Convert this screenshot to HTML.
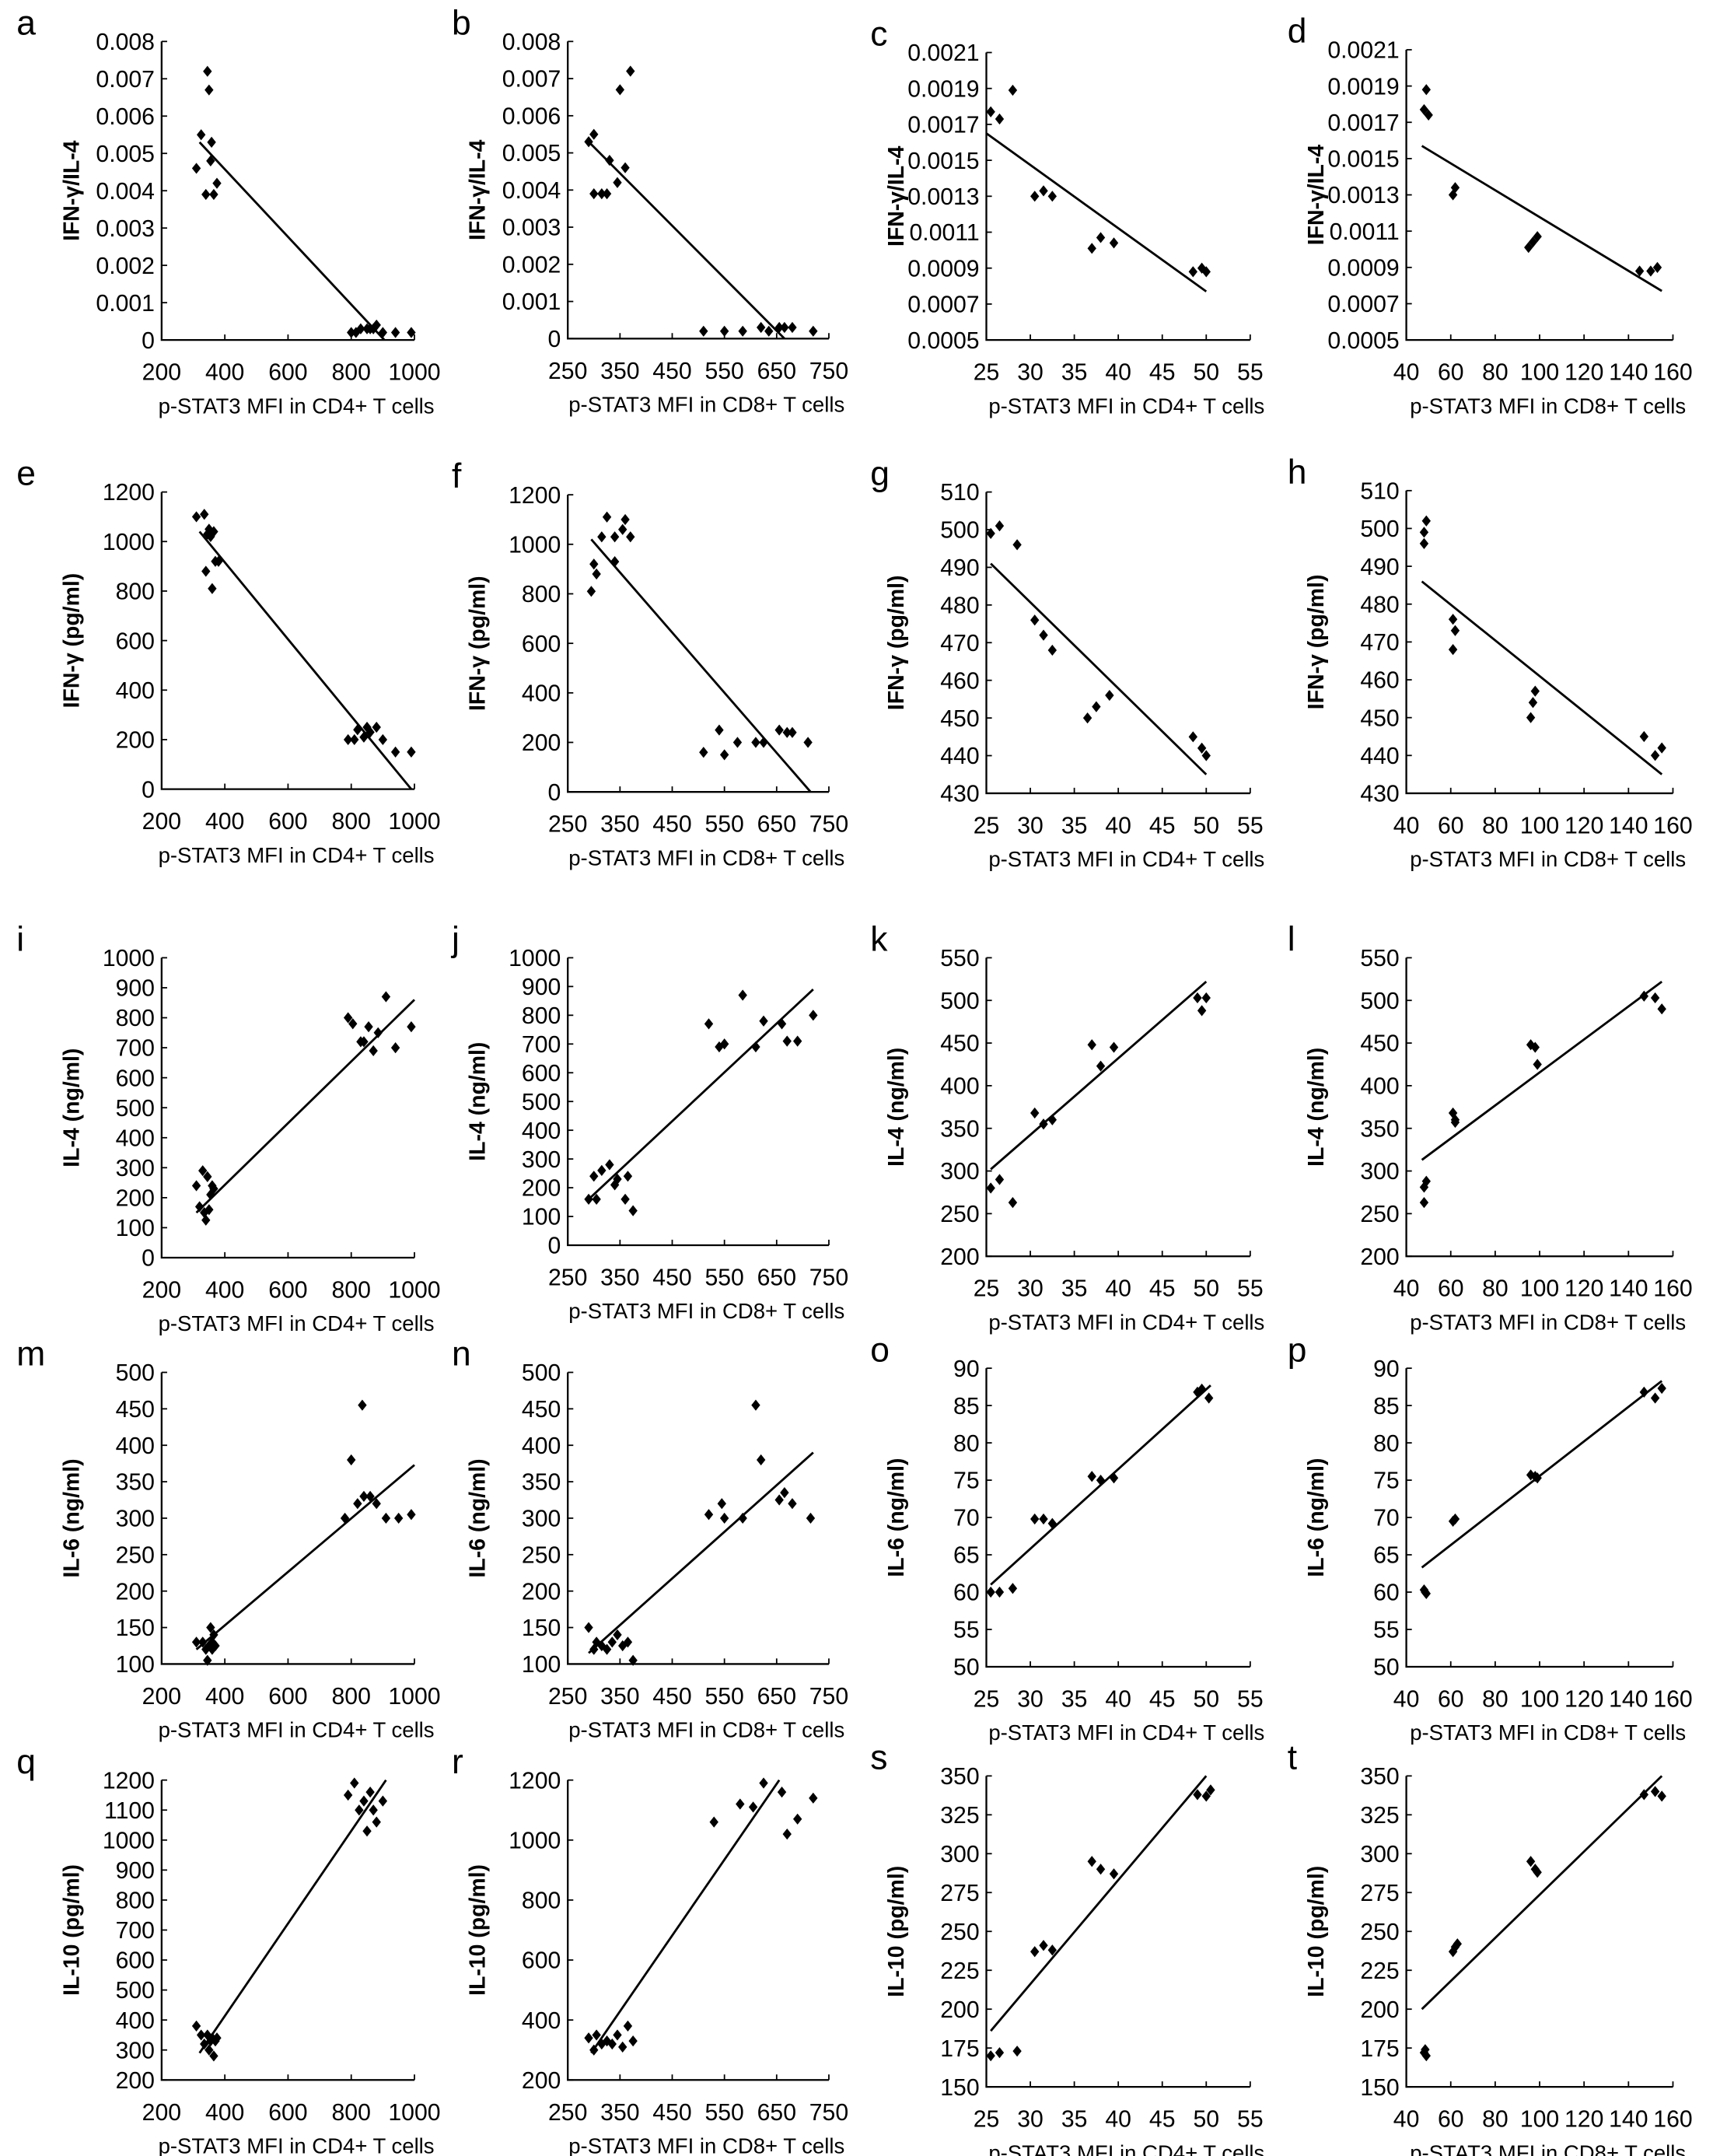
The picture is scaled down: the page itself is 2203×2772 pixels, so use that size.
<!DOCTYPE html>
<html><head><meta charset="utf-8"><style>
html,body{margin:0;padding:0;background:#fff}
svg{display:block}
text{font-family:"Liberation Sans",Arial,sans-serif;fill:#000}
.tk{font-size:17px}
.xt{font-size:15.5px}
.tt{font-size:16px;font-weight:bold}
.lt{font-size:25px}
</style></head><body>
<svg id="fig" width="2203" height="2772" viewBox="0 0 1240 1560" preserveAspectRatio="none" xmlns="http://www.w3.org/2000/svg"></svg>
<script>
const xA=[310,325,340,345,350,355,358,365,375,800,815,830,850,860,870,880,900,940,990];
const yA=[0.0046,0.0055,0.0039,0.0072,0.0067,0.0048,0.0053,0.0039,0.0042,0.0002,0.0002,0.0003,0.0003,0.0003,0.0003,0.0004,0.0002,0.0002,0.0002];
const fitA=[[320,0.0053],[905,0]];
const xB=[290,300,300,315,325,330,345,350,360,370,510,550,585,620,635,655,665,680,720];
const yB=[0.0053,0.0055,0.0039,0.0039,0.0039,0.0048,0.0042,0.0067,0.0046,0.0072,0.0002,0.0002,0.0002,0.0003,0.0002,0.0003,0.0003,0.0003,0.0002];
const fitB=[[290,0.0053],[665,0]];
const xC=[25.5,26.5,28,30.5,31.5,32.5,37,38,39.5,48.5,49.5,50];
const yC=[0.00177,0.00173,0.00189,0.0013,0.00133,0.0013,0.00101,0.00107,0.00104,0.00088,0.0009,0.00088];
const fitC=[[25,0.00165],[50,0.00077]];
const xD=[48,49,50,61,62,95,97,99,145,150,153];
const yD=[0.00177,0.00188,0.00174,0.0013,0.00134,0.00101,0.00104,0.00107,0.00088,0.00088,0.0009];
const fitD=[[47,0.00157],[155,0.00077]];
const xE=[310,335,340,345,350,355,360,365,370,380,790,810,820,840,850,860,880,900,940,990];
const yE=[1100,1110,880,1030,1050,1020,810,1040,920,920,200,200,240,210,250,230,250,200,150,150];
const fitE=[[320,1040],[990,0]];
const xF=[295,300,305,315,325,340,340,355,360,370,510,540,550,575,610,625,655,670,680,710];
const yF=[810,920,880,1030,1110,1030,930,1060,1100,1030,160,250,150,200,200,200,250,240,240,200];
const fitF=[[295,1020],[715,0]];
const xG=[25.5,26.5,28.5,30.5,31.5,32.5,36.5,37.5,39,48.5,49.5,50];
const yG=[499,501,496,476,472,468,450,453,456,445,442,440];
const fitG=[[25.5,491],[50,435]];
const xH=[48,49,48,61,62,61,96,97,98,147,152,155];
const yH=[499,502,496,476,473,468,450,454,457,445,440,442];
const fitH=[[47,486],[155,435]];
const xI=[310,320,330,335,340,345,350,355,360,365,790,805,830,840,855,870,885,910,940,990];
const yI=[240,170,290,150,125,270,160,210,240,230,800,780,720,720,770,690,750,870,700,770];
const fitI=[[310,150],[1000,860]];
const xJ=[290,300,305,315,330,340,345,360,365,375,520,540,550,585,610,625,660,670,690,720];
const yJ=[160,240,160,260,280,210,230,160,240,120,770,690,700,870,690,780,770,710,710,800];
const fitJ=[[290,160],[720,890]];
const xK=[25.5,26.5,28,30.5,31.5,32.5,37,38,39.5,49,49.5,50];
const yK=[280,290,263,368,355,360,448,423,445,503,488,503];
const fitK=[[25.5,302],[50,522]];
const xL=[48,49,48,61,62,62,96,98,99,147,152,155];
const yL=[281,288,263,368,357,360,448,445,425,505,503,490];
const fitL=[[47,313],[155,522]];
const xM=[310,330,340,345,350,355,360,365,370,360,780,800,820,835,840,860,880,910,950,990];
const yM=[130,130,120,105,125,150,120,140,125,130,300,380,320,455,330,330,320,300,300,305];
const fitM=[[310,120],[1000,373]];
const xN=[290,300,305,315,325,335,345,355,365,375,520,545,550,585,610,620,655,665,680,715];
const yN=[150,120,130,125,120,130,140,125,130,105,305,320,300,300,455,380,325,335,320,300];
const fitN=[[290,115],[720,390]];
const xO=[25.5,26.5,28,30.5,31.5,32.5,37,38,39.5,49,49.5,50.3];
const yO=[60,60,60.5,69.8,69.8,69.2,75.5,75,75.3,86.8,87.2,86];
const fitO=[[25.5,61],[50.5,87.7]];
const xP=[48,49,48.5,61,62,96,98,99,147,152,155];
const yP=[60.3,59.8,60,69.5,69.8,75.7,75.5,75.3,86.8,86,87.3];
const fitP=[[47,63.3],[155,88.3]];
const xQ=[310,325,335,345,350,355,360,365,370,375,790,810,825,840,850,860,870,880,900];
const yQ=[380,350,320,350,300,330,340,280,330,340,1150,1190,1100,1130,1030,1160,1100,1060,1130];
const fitQ=[[320,290],[910,1200]];
const xR=[290,300,305,315,325,335,345,355,365,375,530,580,605,625,660,670,690,720];
const yR=[340,300,350,320,330,320,350,310,380,330,1060,1120,1110,1190,1160,1020,1070,1140];
const fitR=[[295,290],[655,1200]];
const xS=[25.5,26.5,28.5,30.5,31.5,32.5,37,38,39.5,49,50,50.5];
const yS=[170,172,173,237,241,238,295,290,287,338,337,341];
const fitS=[[25.5,186],[50,350]];
const xT=[48,49,48.5,61,62,63,96,98,99,147,152,155];
const yT=[172,170,174,237,240,242,295,290,288,338,340,337];
const fitT=[[47,200],[155,350]];

const cd4="p-STAT3 MFI in CD4+ T cells", cd8="p-STAT3 MFI in CD8+ T cells";
const C1={px0:117,px1:300,min:200,max:1000,step:200,lx:12};
const C2={px0:411,px1:600,min:250,max:750,step:100,lx:327};
const C3={px0:714,px1:905,min:25,max:55,step:5,lx:630};
const C4={px0:1018,px1:1211,min:40,max:160,step:20,lx:932};
const panels=[
 ['a',xA,yA,fitA,C1,30,246,0,0.008,0.001,3,'IFN-γ/IL-4',cd4],
 ['b',xB,yB,fitB,C2,30,245,0,0.008,0.001,3,'IFN-γ/IL-4',cd8],
 ['c',xC,yC,fitC,C3,38,246,0.0005,0.0021,0.0002,4,'IFN-γ/IL-4',cd4],
 ['d',xD,yD,fitD,C4,36,246,0.0005,0.0021,0.0002,4,'IFN-γ/IL-4',cd8],
 ['e',xE,yE,fitE,C1,356,571,0,1200,200,0,'IFN-γ (pg/ml)',cd4],
 ['f',xF,yF,fitF,C2,358,573,0,1200,200,0,'IFN-γ (pg/ml)',cd8],
 ['g',xG,yG,fitG,C3,356,574,430,510,10,0,'IFN-γ (pg/ml)',cd4],
 ['h',xH,yH,fitH,C4,355,574,430,510,10,0,'IFN-γ (pg/ml)',cd8],
 ['i',xI,yI,fitI,C1,693,910,0,1000,100,0,'IL-4 (ng/ml)',cd4],
 ['j',xJ,yJ,fitJ,C2,693,901,0,1000,100,0,'IL-4 (ng/ml)',cd8],
 ['k',xK,yK,fitK,C3,693,909,200,550,50,0,'IL-4 (ng/ml)',cd4],
 ['l',xL,yL,fitL,C4,693,909,200,550,50,0,'IL-4 (ng/ml)',cd8],
 ['m',xM,yM,fitM,C1,993,1204,100,500,50,0,'IL-6 (ng/ml)',cd4],
 ['n',xN,yN,fitN,C2,993,1204,100,500,50,0,'IL-6 (ng/ml)',cd8],
 ['o',xO,yO,fitO,C3,990,1206,50,90,5,0,'IL-6 (ng/ml)',cd4],
 ['p',xP,yP,fitP,C4,990,1206,50,90,5,0,'IL-6  (ng/ml)',cd8],
 ['q',xQ,yQ,fitQ,C1,1288,1505,200,1200,100,0,'IL-10 (pg/ml)',cd4],
 ['r',xR,yR,fitR,C2,1288,1505,200,1200,200,0,'IL-10 (pg/ml)',cd8],
 ['s',xS,yS,fitS,C3,1285,1510,150,350,25,0,'IL-10 (pg/ml)',cd4],
 ['t',xT,yT,fitT,C4,1285,1510,150,350,25,0,'IL-10 (pg/ml)',cd8]
];
const NS="http://www.w3.org/2000/svg";
const svg=document.getElementById('fig');
function mk(tag,attrs,parent,txt){const e=document.createElementNS(NS,tag);for(const k in attrs)e.setAttribute(k,attrs[k]);if(txt!==undefined)e.textContent=txt;parent.appendChild(e);return e;}
panels.forEach(p=>{
 const [id,xs,ys,fit,C,yt,yb,ymin,ymax,ystep,dec,ytitle,xtitle]=p;
 const sx=v=>C.px0+(v-C.min)/(C.max-C.min)*(C.px1-C.px0);
 const sy=v=>yb-(v-ymin)/(ymax-ymin)*(yb-yt);
 const g=mk('g',{},svg);
 
 
 const lt=mk('text',{x:C.lx,y:yt-5,class:'lt'},g,id);
 
 
 const ax=mk('path',{d:`M${C.px0},${yt}V${yb}H${C.px1}`,stroke:'#000','stroke-width':1.3,fill:'none'},g);
 
 
 for(let v=ymin,i=0;v<=ymax+ystep/1000;i++,v=ymin+i*ystep){
  const y=sy(v);
  mk('line',{x1:C.px0,x2:C.px0+4,y1:y,y2:y,stroke:'#000','stroke-width':1},g);
  const lab=(v===0)?'0':v.toFixed(dec);
  const t=mk('text',{x:C.px0-5,y:y+6,class:'tk','text-anchor':'end'},g,lab);
  
  
 }
 for(let v=C.min,i=0;v<=C.max+1e-9;i++,v=C.min+i*C.step){
  const x=sx(v);
  mk('line',{x1:x,x2:x,y1:yb,y2:yb-4,stroke:'#000','stroke-width':1},g);
  const t=mk('text',{x:x,y:yb+29,class:'tk','text-anchor':'middle'},g,String(v));
  
  
 }
 const xt=mk('text',{x:(C.px0+C.px1)/2+6,y:yb+53,class:'xt','text-anchor':'middle'},g,xtitle);
 
 
 const cy=(yt+yb)/2, cx=C.px0-60;
 const yy=mk('text',{x:cx,y:cy,class:'tt','text-anchor':'middle',transform:`rotate(-90 ${cx} ${cy})`},g,ytitle);
 
 
 const fl=mk('line',{x1:sx(fit[0][0]),y1:sy(fit[0][1]),x2:sx(fit[1][0]),y2:sy(fit[1][1]),stroke:'#000','stroke-width':1.6},g);
 
 
 xs.forEach((xv,i)=>{
  const x=sx(xv),y=sy(ys[i]);
  const d=mk('path',{d:`M${x},${y-4}L${x+3.2},${y}L${x},${y+4}L${x-3.2},${y}Z`,fill:'#000'},g);
  
  
 });
});
</script>
</body></html>
